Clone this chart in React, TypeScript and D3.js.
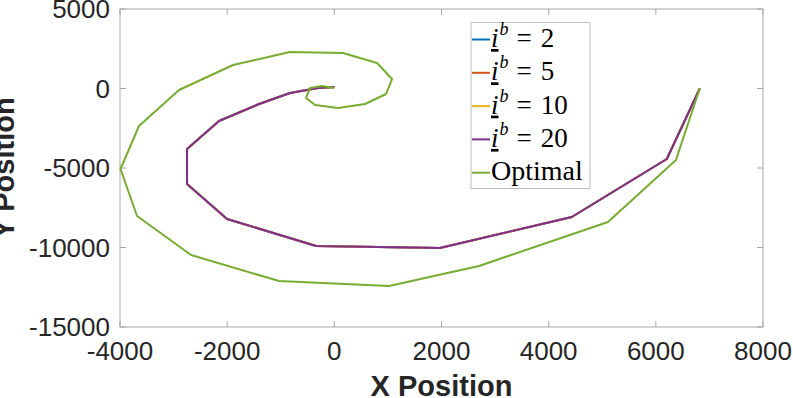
import React from 'react';
import * as d3 from 'd3';

// Optimal trajectory (green)
const optX = [6820, 6376, 5107, 2700, 1021, -1032, -2674, -3682, -3990, -3646, -2899, -1890, -827, 162, 797, 1077, 965, 573, 69, -360, -528, -453, -230, 0];
const optY = [0, -4497, -8396, -11163, -12421, -12107, -10471, -8018, -5063, -2358, -94, 1478, 2295, 2233, 1604, 597, -346, -975, -1226, -1038, -597, 31, 157, 31];

// Bounded trajectories (all i^b values overlap; purple drawn last)
const ibX = [6820, 6205, 4432, 1970, -341, -2002, -2749, -2749, -2152, -1405, -827, -304, 0];
const ibY = [0, -4434, -8082, -10031, -9905, -8207, -6006, -3805, -2044, -975, -283, 31, 94];

const legendValues = ['2', '5', '10', '20'];
const seriesColors = ['#0072BD', '#D95319', '#EDB120', '#7E2F8E'];
const optimalColor = '#77AC30';

const xTicks = [-4000, -2000, 0, 2000, 4000, 6000, 8000];
const yTicks = [5000, 0, -5000, -10000, -15000];

const W = 793, H = 398;
const L = 120, R = 763, T = 9, B = 327;

export default function App() {
  const x = d3.scaleLinear().domain([-4000, 8000]).range([L, R]);
  const y = d3.scaleLinear().domain([-15000, 5000]).range([B, T]);
  const line = d3.line<[number, number]>().x(d => x(d[0])).y(d => y(d[1]));

  const ibPts = ibX.map((v, i) => [v, ibY[i]] as [number, number]);
  const optPts = optX.map((v, i) => [v, optY[i]] as [number, number]);

  const axisColor = '#a8a8a8';
  const tickFont = "'Liberation Sans', Arial, Helvetica, sans-serif";
  const legendFont = "'Liberation Serif', 'Times New Roman', serif";

  const legX = 471, legY = 22.5, legW = 119, legH = 166;
  const rowY = (i: number) => 39.5 + i * 33.3;

  return (
    <svg width={W} height={H} style={{ position: 'absolute', left: 0, top: 0, background: '#fff' }}>
      {/* plot box */}
      <rect x={L} y={T} width={R - L} height={B - T} fill="#fff" stroke={axisColor} strokeWidth={1} />
      {xTicks.map(t => (
        <g key={'xt' + t}>
          <line x1={x(t)} x2={x(t)} y1={B} y2={B - 6} stroke={axisColor} />
          <line x1={x(t)} x2={x(t)} y1={T} y2={T + 6} stroke={axisColor} />
          <text x={x(t)} y={360} textAnchor="middle" fontFamily={tickFont} fontSize={26} fill="#262626">{String(t)}</text>
        </g>
      ))}
      {yTicks.map(t => (
        <g key={'yt' + t}>
          <line x1={L} x2={L + 6} y1={y(t)} y2={y(t)} stroke={axisColor} />
          <line x1={R} x2={R - 6} y1={y(t)} y2={y(t)} stroke={axisColor} />
          <text x={110} y={y(t)} dy="0.36em" textAnchor="end" fontFamily={tickFont} fontSize={26} fill="#262626">{String(t)}</text>
        </g>
      ))}

      {/* trajectories */}
      {seriesColors.map((c, i) => (
        <path key={'s' + i} d={line(ibPts) || ''} fill="none" stroke={c} strokeWidth={2} strokeLinejoin="round" />
      ))}
      <path d={line(optPts) || ''} fill="none" stroke={optimalColor} strokeWidth={2} strokeLinejoin="round" />

      {/* axis labels */}
      <text x={(L + R) / 2} y={396} textAnchor="middle" fontFamily={tickFont} fontWeight="bold" fontSize={29} fill="#262626">X Position</text>
      <text transform={`translate(13.5,${(T + B) / 2}) rotate(-90)`} textAnchor="middle" fontFamily={tickFont} fontWeight="bold" fontSize={29} fill="#262626">Y Position</text>

      {/* legend */}
      <rect x={legX} y={legY} width={legW} height={legH} fill="#fff" stroke="#bdbdbd" strokeWidth={1} />
      {legendValues.map((v, i) => (
        <g key={'lg' + v}>
          <line x1={legX + 1} x2={legX + 19} y1={rowY(i)} y2={rowY(i)} stroke={seriesColors[i]} strokeWidth={2} />
          <text x={legX + 20} y={rowY(i) + 7.5} fontFamily={legendFont} fontSize={27} fill="#000">
            <tspan fontStyle="italic" textDecoration="underline">i</tspan>
            <tspan fontSize={18} fontStyle="italic" dy={-12} dx={1}>b</tspan>
            <tspan dy={12} dx={8}>=</tspan>
            <tspan dx={9}>{v}</tspan>
          </text>
        </g>
      ))}
      <line x1={legX + 1} x2={legX + 19} y1={rowY(4)} y2={rowY(4)} stroke={optimalColor} strokeWidth={2} />
      <text x={legX + 20} y={rowY(4) + 7.5} fontFamily={legendFont} fontSize={28} fill="#000">Optimal</text>
    </svg>
  );
}
